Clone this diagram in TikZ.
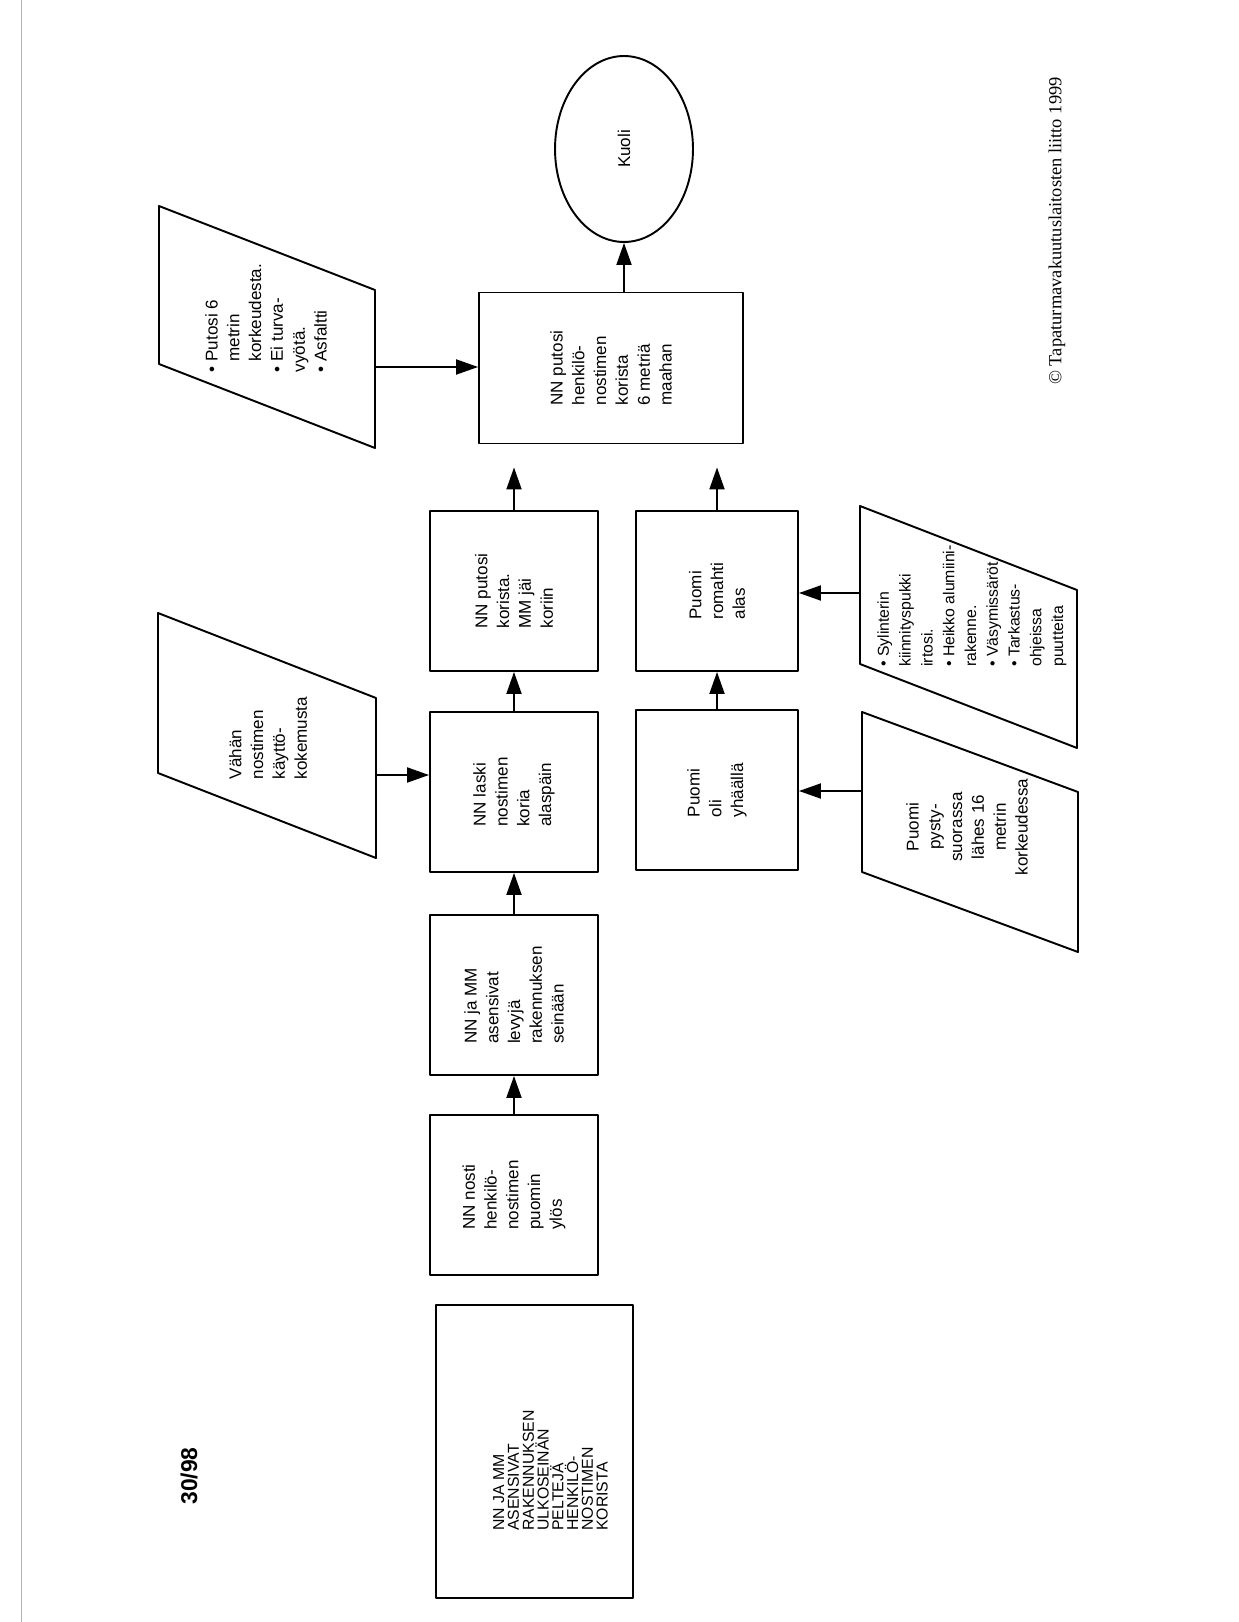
\documentclass[tikz,border=0pt]{standalone}
\usepackage{fontspec}
\setmainfont{Liberation Sans}
\newfontfamily\timesfont{Liberation Serif}
\usetikzlibrary{arrows.meta,shapes.geometric}
\newcommand{\vali}{\phantom{•\ }}

\begin{document}
\begin{tikzpicture}[x=0.02cm,y=-0.02cm,line join=round,
  >={Triangle[length=4.4mm,width=3mm]},
  txt/.style={rotate=90,inner sep=0pt,align=left,font=\fontsize{9.7}{12.4}\selectfont},
  box/.style={txt,draw,line width=1.1pt,minimum width=3.2cm,minimum height=3.36cm},
  arr/.style={->,line width=1.1pt},
  para/.style={line width=1.1pt}]

\useasboundingbox (0,0) rectangle (1239,1622);
\draw[gray!60,line width=0.4pt] (21,0) -- (21,1622);

% otsikko
\node[rotate=90,inner sep=0pt,font=\fontsize{13}{15}\selectfont\bfseries] (nro) at (189,1476) {30/98};
\draw[line width=1.1pt] (436,1305) rectangle (633,1598);
\node[txt,anchor=north west,font=\fontsize{9}{8.4}\selectfont] (otsikko) at (493,1531)
  {NN JA MM\\ASENSIVAT\\RAKENNUKSEN\\ULKOSEINÄN\\PELTEJÄ\\HENKILÖ-\\NOSTIMEN\\KORISTA};

% tapahtumat
\node[box] (nosti) at (514,1195) {NN nosti\\henkilö-\\nostimen\\puomin\\ylös};
\node[box] (asens) at (514,995) {NN ja MM\\asensivat\\levyjä\\rakennuksen\\seinään};
\node[box] (laski) at (514,792) {NN laski\\nostimen\\koria\\alaspäin};
\node[box] (putosi) at (514,591) {NN putosi\\korista.\\MM jäi\\koriin};
\node[box,minimum height=3.24cm] (oli) at (717,790) {Puomi\\oli\\yhäällä};
\node[box,minimum height=3.24cm] (romahti) at (717,591) {Puomi\\romahti\\alas};
\node[box,minimum width=3.02cm,minimum height=5.28cm] (maahan) at (611,368)
  {NN putosi\\henkilö-\\nostimen\\korista\\6 metriä\\maahan};
\node[txt,draw,ellipse,line width=1.1pt,minimum width=3.72cm,minimum height=2.76cm] (kuoli) at (624,149) {Kuoli};

\draw[arr] (nosti.east) -- (asens.west);
\draw[arr] (asens.east) -- (laski.west);
\draw[arr] (laski.east) -- (putosi.west);
\draw[arr] (oli.east) -- (romahti.west);
\draw[arr,shorten >=0.46cm] (putosi.east) -- (putosi.east |- maahan.west);
\draw[arr,shorten >=0.46cm] (romahti.east) -- (romahti.east |- maahan.west);
\draw[arr] (kuoli.west |- maahan.east) -- (kuoli.west);

% olosuhteet
\draw[para] (159,206) -- (375,290) -- (375,448) -- (159,364) -- cycle;
\node[txt] (putoamis) at (266,318)
  {• Putosi 6\\\vali metrin\\\vali korkeudesta.\\• Ei turva-\\vyötä.\\• Asfaltti};
\coordinate (putoamisR) at (375,367);
\draw[arr] (putoamisR) -- (putoamisR -| maahan.north);

\draw[para] (158,613) -- (376,698) -- (376,858) -- (158,773) -- cycle;
\node[txt] (kokemus) at (268,738) {Vähän\\nostimen\\käyttö-\\kokemusta};
\coordinate (kokemusR) at (376,775);
\draw[arr] (kokemusR) -- (kokemusR -| laski.north);

\draw[para] (860,506) -- (1077,590) -- (1077,748) -- (860,664) -- cycle;
\node[txt,font=\fontsize{9}{12.4}\selectfont] (sylinteri) at (972,606)
  {• Sylinterin\\kiinnityspukki\\irtosi.\\• Heikko alumiini-\\rakenne.\\• Väsymissäröt.\\• Tarkastus-\\ohjeissa\\puutteita};
\coordinate (sylinteriL) at (860,593);
\draw[arr] (sylinteriL) -- (sylinteriL -| romahti.south);

\draw[para] (862,712) -- (1078,792) -- (1078,952) -- (862,872) -- cycle;
\node[txt,align=center] (pysty) at (967,827) {Puomi\\pysty-\\suorassa\\lähes 16\\metrin\\korkeudessa};
\coordinate (pystyL) at (862,791);
\draw[arr] (pystyL) -- (pystyL -| oli.south);

\node[rotate=90,inner sep=0pt,font=\timesfont\fontsize{10.5}{12}\selectfont] (copy) at (1057,231)
  {© Tapaturmavakuutuslaitosten liitto 1999};
\end{tikzpicture}
\end{document}
